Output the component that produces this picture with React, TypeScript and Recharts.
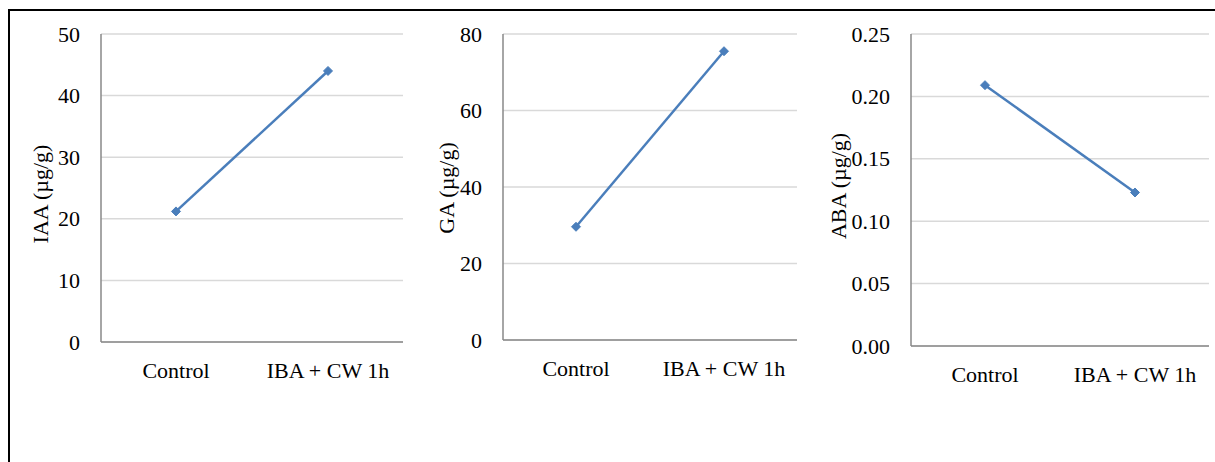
import { LineChart, Line, XAxis, YAxis, CartesianGrid, Label } from 'recharts'

const categories = ['Control', 'IBA + CW 1h']
const iaaValues = [21.2, 44.0]
const gaValues = [29.6, 75.5]
const abaValues = [0.209, 0.123]
const iaaTicks = [0, 10, 20, 30, 40, 50]
const gaTicks = [0, 20, 40, 60, 80]
const abaTicks = [0, 0.05, 0.1, 0.15, 0.2, 0.25]

const BLUE = '#4a7ebb'
const BOX = '#898989'
const GRID = '#d9d9d9'
const FONT = 'Liberation Serif, Times New Roman, serif'

const Diamond = (props: any) => {
  const { cx, cy, index } = props
  if (cx == null || cy == null) return null
  const r = 4.5
  return (
    <polygon
      key={index}
      points={`${cx},${cy - r} ${cx + r},${cy} ${cx},${cy + r} ${cx - r},${cy}`}
      fill={BLUE}
      stroke={BLUE}
    />
  )
}

const XTick = (props: any) => {
  const { x, y, payload } = props
  return (
    <text x={x} y={y + 16} textAnchor="middle" fontSize={22} fontFamily={FONT} fill="#000" style={{ fontFamily: FONT }}>
      {payload.value}
    </text>
  )
}

const makeYTick = (digits: number) => (props: any) => {
  const { x, y, payload } = props
  return (
    <text x={x} y={y} textAnchor="end" dominantBaseline="central" fontSize={22} fontFamily={FONT} fill="#000" style={{ fontFamily: FONT }}>
      {Number(payload.value).toFixed(digits)}
    </text>
  )
}

interface PanelProps {
  title: string
  values: number[]
  ticks: number[]
  digits: number
  left: number
  width: number
  yAxisWidth: number
  marginRight: number
  marginBottom: number
  pad: number
  titleX: number
  titleY: number
}

function Panel(p: PanelProps) {
  const data = categories.map((name, i) => ({ name, value: p.values[i] }))
  const top = p.ticks[p.ticks.length - 1]
  return (
    <div style={{ position: 'absolute', left: p.left, top: 0 }}>
      <LineChart
        width={p.width}
        height={462}
        data={data}
        margin={{ top: 34, right: p.marginRight, bottom: p.marginBottom, left: 0 }}
        style={{ fontFamily: FONT, overflow: 'visible' }}
      >
        <CartesianGrid vertical={false} stroke={GRID} strokeWidth={1.5} />
        <XAxis
          dataKey="name"
          height={30}
          padding={{ left: p.pad, right: p.pad }}
          tickLine={false}
          tickSize={0}
          tickMargin={20}
          axisLine={{ stroke: BOX, strokeWidth: 1.5 }}
          tick={XTick}
          interval={0}
        />
        <XAxis xAxisId="top" dataKey="name" orientation="top" height={0} tick={false} tickLine={false} axisLine={{ stroke: BOX, strokeWidth: 1.5 }} />
        <YAxis
          width={p.yAxisWidth}
          domain={[0, top]}
          ticks={p.ticks}
          tickLine={false}
          tickSize={0}
          tickMargin={21}
          axisLine={{ stroke: BOX, strokeWidth: 1.5 }}
          tick={makeYTick(p.digits)}
          interval={0}
        >
          <Label
            value={p.title}
            content={() => (
              <text
                x={p.titleX}
                y={p.titleY}
                transform={`rotate(-90, ${p.titleX}, ${p.titleY})`}
                textAnchor="middle"
                dominantBaseline="central"
                fontSize={22}
                fontFamily={FONT}
                fill="#000"
              >
                {p.title}
              </text>
            )}
          />
        </YAxis>
        <YAxis yAxisId="right" orientation="right" width={0} domain={[0, top]} tick={false} tickLine={false} axisLine={{ stroke: BOX, strokeWidth: 1.5 }} />
        <Line
          dataKey="value"
          stroke={BLUE}
          strokeWidth={2.5}
          dot={Diamond}
          activeDot={false}
          isAnimationActive={false}
        />
      </LineChart>
    </div>
  )
}

export default function App() {
  return (
    <div style={{ position: 'absolute', left: 0, top: 0, width: 1215, height: 462, background: '#fff', overflow: 'hidden' }}>
      <div style={{ position: 'absolute', left: 8, top: 9, width: 1207, height: 2, background: '#000' }} />
      <div style={{ position: 'absolute', left: 8, top: 9, width: 2, height: 453, background: '#000' }} />
      <Panel title="IAA (µg/g)" values={iaaValues} ticks={iaaTicks} digits={0} pad={75}
        left={0} width={420} yAxisWidth={101} marginRight={17} marginBottom={90} titleX={40} titleY={194} />
      <Panel title="GA (µg/g)" values={gaValues} ticks={gaTicks} digits={0} pad={73}
        left={420} width={390} yAxisWidth={83} marginRight={13} marginBottom={92} titleX={26} titleY={188} />
      <Panel title="ABA (µg/g)" values={abaValues} ticks={abaTicks} digits={2} pad={74}
        left={810} width={405} yAxisWidth={101} marginRight={6} marginBottom={86} titleX={28} titleY={186} />
    </div>
  )
}
